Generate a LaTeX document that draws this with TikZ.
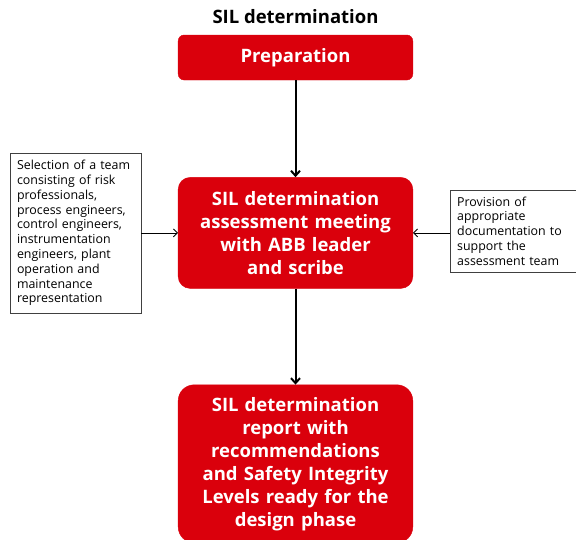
\documentclass[tikz,border=0pt]{standalone}
\usepackage{fontspec}
\setmainfont{Open Sans}
\usetikzlibrary{arrows.meta,positioning}
\definecolor{abbred}{RGB}{218,0,12}
\tikzset{%
	title/.style    = {font=\fontsize{18.5}{22}\selectfont\bfseries, text=black}, % Heading
	stage/.style    = {fill=abbred, draw=abbred, rounded corners=6pt, minimum width=233pt, text width=228pt, align=center, text=white, font=\fontsize{18.5}{23}\selectfont\bfseries},
	note/.style     = {draw=black!75, fill=white, align=left, font=\fontsize{12.4}{14.8}\selectfont, inner xsep=7pt, inner ysep=5pt},
	flow/.style     = {line width=2pt, -{Straight Barb[length=5pt,width=9pt]}},
	feed/.style     = {line width=0.8pt, -{Straight Barb[length=4pt,width=8pt]}},
}
\begin{document}
\begin{tikzpicture}[x=1pt,y=-1pt]
	\useasboundingbox (0,0) rectangle (576,539);
	\node [title] (head) at (295.5,17) {SIL determination};
	\node [stage, minimum height=45pt] (prep) at (295.5,57.5) {Preparation};
	\node [stage, minimum height=111pt, rounded corners=12pt, below=97pt of prep] (meet) {SIL determination\\assessment meeting\\with ABB leader\\and scribe};
	\node [stage, minimum height=158pt, rounded corners=16pt, below=96pt of meet] (rep) {SIL determination\\report with\\recommendations\\and Safety Integrity\\Levels ready for the\\design phase};
	\node [note, text width=117pt, minimum height=160pt] (team) at (75.5,233) {Selection of a team\\consisting of risk\\professionals,\\process engineers,\\control engineers,\\instrumentation\\engineers, plant\\operation and\\maintenance\\representation};
	\node [note, text width=122pt, minimum height=82pt, anchor=west] (docs) at (450,231) {Provision of\\appropriate\\documentation to\\support the\\assessment team};

	\draw[flow] (prep) -- (meet);
	\draw[flow] (meet) -- (rep);
	\draw[feed] (team.east |- meet) -- (meet);
	\draw[feed] (docs.west |- meet) -- (meet);
\end{tikzpicture}
\end{document}
